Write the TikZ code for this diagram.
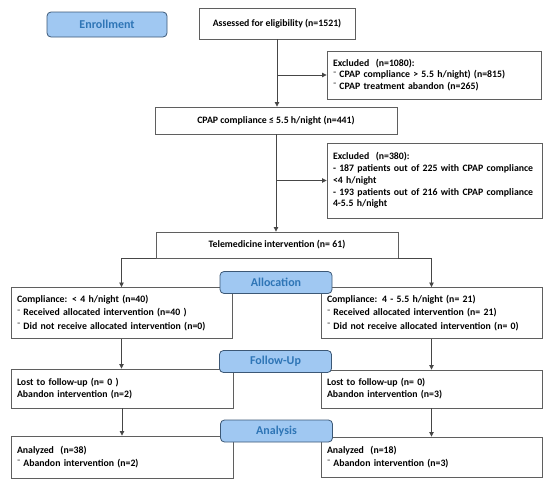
\documentclass[tikz,border=0pt]{standalone}
\usepackage{fontspec}
\setmainfont{Carlito}
\usepackage{tikz}
\usetikzlibrary{arrows.meta,positioning}
\definecolor{linegrey}{RGB}{70,70,70}
\definecolor{boxgrey}{RGB}{95,95,95}
\definecolor{phasebg}{RGB}{160,200,242}
\definecolor{phaseedge}{RGB}{60,88,118}
\definecolor{phasetxt}{RGB}{46,117,182}
\newcommand{\bul}{\textsuperscript{--}\hspace{2.5pt}}
\newcommand{\fsz}[2]{\fontsize{#1}{#2}\selectfont\bfseries}
\tikzset{
  blk/.style={draw=boxgrey,fill=white,line width=0.9pt,align=center,
              inner sep=0pt,font=\fsz{9.8}{12}},
  blkl/.style={blk,align=left,inner xsep=6pt},
  phase/.style={draw=phaseedge,fill=phasebg,rounded corners=4pt,line width=0.8pt,
                minimum width=112,minimum height=22,inner sep=0pt,text=phasetxt,
                font=\fsz{12}{14}},
  flow/.style={-{Triangle[length=4.5pt,width=4.5pt]},line width=0.8pt,draw=linegrey},
}

\begin{document}
\begin{tikzpicture}[x=1pt,y=-1pt]
  \useasboundingbox (0,0) rectangle (550,488);

  % --- trunk ---------------------------------------------------------------
  \node[blk,minimum width=156,minimum height=31] (assess) at (277,23.5)
        {Assessed for eligibility (n=1521)};
  \node[blkl,minimum width=214,minimum height=48,text width=202,
        font=\fsz{9.8}{11.6}] (exc1) at (434,75)
        {Excluded\ \ (n=1080):\\
         \bul CPAP compliance > 5.5 h/night) (n=815)\\
         \bul CPAP treatment abandon (n=265)};
  \node[blk,minimum width=242,minimum height=27] (cpap) at (276,120.5)
        {CPAP compliance ≤ 5.5 h/night (n=441)};
  \node[blkl,minimum width=215,minimum height=75,text width=203,
        font=\fsz{9.8}{11.7}] (exc2) at (434.5,180.5)
        {Excluded\ \ (n=380):\\
         - 187 patients out of 225 with CPAP compliance\\
         <4 h/night\\
         - 193 patients out of 216 with CPAP compliance\\
         4-5.5 h/night};
  \node[blk,minimum width=242,minimum height=26] (tele) at (277,245)
        {Telemedicine intervention (n= 61)};

  % --- two arms ------------------------------------------------------------
  \node[blkl,minimum width=221,minimum height=51,text width=209,
        font=\fsz{9.8}{13.3}] (alocL) at (121.5,313)
        {Compliance: < 4 h/night (n=40)\\
         \bul Received allocated intervention (n=40 )\\
         \bul Did not receive allocated intervention (n=0)};
  \node[blkl,minimum width=221,minimum height=51,text width=209,
        font=\fsz{9.8}{13.3}] (alocR) at (431.5,313)
        {Compliance: 4 - 5.5 h/night (n= 21)\\
         \bul Received allocated intervention (n= 21)\\
         \bul Did not receive allocated intervention (n= 0)};
  \node[blkl,minimum width=222,minimum height=39,text width=210] (fuL) at (122,388.5)
        {Lost to follow-up (n= 0 )\\
         Abandon intervention (n=2)};
  \node[blkl,minimum width=221,minimum height=38,text width=209] (fuR) at (431.5,389)
        {Lost to follow-up (n= 0)\\
         Abandon intervention (n=3)};
  \node[blkl,minimum width=222,minimum height=42,text width=210,
        font=\fsz{9.8}{12.7}] (anL) at (122,457)
        {Analyzed\ \ (n=38)\\
         \bul Abandon intervention (n=2)};
  \node[blkl,minimum width=221,minimum height=40,text width=209,
        font=\fsz{9.8}{12.7}] (anR) at (431.5,457)
        {Analyzed\ \ (n=18)\\
         \bul Abandon intervention (n=3)};

  % --- phase labels ----------------------------------------------------------
  \node[phase,minimum width=120,minimum height=25] (enrol) at (107,24.5) {Enrollment};
  \node[phase] (alloc)  at (276,282.5) {Allocation};
  \node[phase] (follow) at (275.5,361.5) {Follow-Up};
  \node[phase] (analys) at (276.5,431) {Analysis};

  % --- connectors ------------------------------------------------------------
  \draw[flow] (assess.south) -- (cpap.north-|assess.south);
  \draw[flow] (assess.south|-exc1.west) -- (exc1.west);
  \draw[flow] (cpap.south) -- (tele.north-|cpap.south);
  \draw[flow] (cpap.south|-exc2.west) -- (exc2.west);

  \draw[flow] (tele.south west) -| (alocL.north);
  \draw[flow] (tele.south east) -| (alocR.north);
  \draw[flow] (alocL.south) -- (fuL.north-|alocL.south);
  \draw[flow] (alocR.south) -- (fuR.north-|alocR.south);
  \draw[flow] (fuL.south) -- (anL.north-|fuL.south);
  \draw[flow] (fuR.south) -- (anR.north-|fuR.south);
\end{tikzpicture}
\end{document}
